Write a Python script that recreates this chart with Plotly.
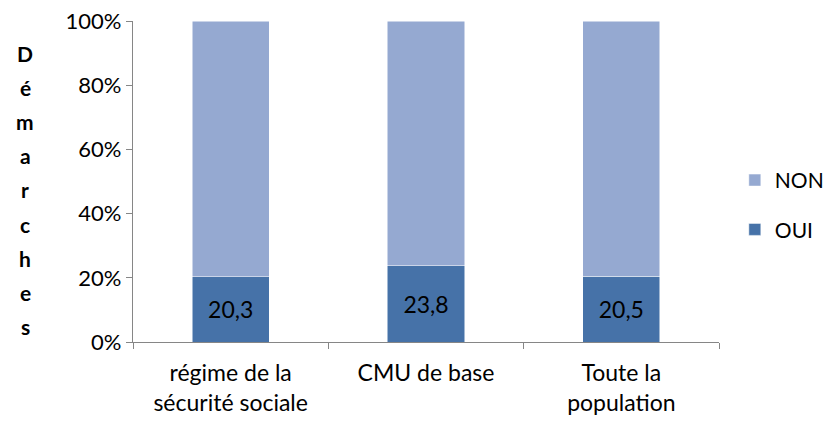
import plotly.graph_objects as go

categories = ["régime de la<br>sécurité sociale", "CMU de base", "Toute la<br>population"]
oui = [20.3, 23.8, 20.5]
non = [79.7, 76.2, 79.5]
oui_labels = ["20,3", "23,8", "20,5"]
y_title = "Démarches"

FONT = "Lato, Open Sans, sans-serif"

fig = go.Figure()
fig.add_trace(go.Bar(
    x=categories, y=oui, name="OUI", legendgroup="oui", legendrank=2,
    marker=dict(color="#4672A8", line=dict(color="#FFFFFF", width=0.5)),
    text=oui_labels, textposition="inside", insidetextanchor="middle",
    textfont=dict(color="#000000", size=23, family=FONT),
    hoverinfo="skip",
))
fig.add_trace(go.Bar(
    x=categories, y=non, name="NON", legendgroup="non", legendrank=1,
    marker=dict(color="#95A9D1", line=dict(color="#FFFFFF", width=0.5)),
    hoverinfo="skip",
))

# lettres du titre vertical
for i, ch in enumerate(y_title):
    fig.add_annotation(
        text="<b>%s</b>" % ch, xref="paper", yref="paper",
        x=-0.184, y=0.9 - i * 0.1066, xanchor="center", yanchor="middle",
        showarrow=False,
        font=dict(size=21, family=FONT, color="#000000"),
    )

# la page ajoute une marge de 8 px autour de la figure
fig.update_layout(
    width=820, height=413,
    margin=dict(l=125, r=109, t=13, b=79, autoexpand=False),
    barmode="stack", bargap=0.605,
    plot_bgcolor="white", paper_bgcolor="white",
    font=dict(family=FONT, size=22, color="#000000"),
    showlegend=True,
    legend=dict(x=1.027, y=0.427, xanchor="left", yanchor="middle",
                traceorder="grouped", tracegroupgap=19, font=dict(size=21)),
    xaxis=dict(showline=True, linecolor="#868686", linewidth=1.3,
               ticks="outside", tickson="boundaries", ticklen=6, tickcolor="#868686",
               ticklabelstandoff=10, tickfont=dict(size=23)),
    yaxis=dict(range=[0, 100], dtick=20, ticksuffix="%", showgrid=False,
               showline=True, linecolor="#868686", linewidth=1.3,
               ticks="outside", ticklen=6, tickcolor="#868686", zeroline=False,
               ticklabeloverflow="allow", tickfont=dict(size=22)),
)

fig.write_html("out.html")
